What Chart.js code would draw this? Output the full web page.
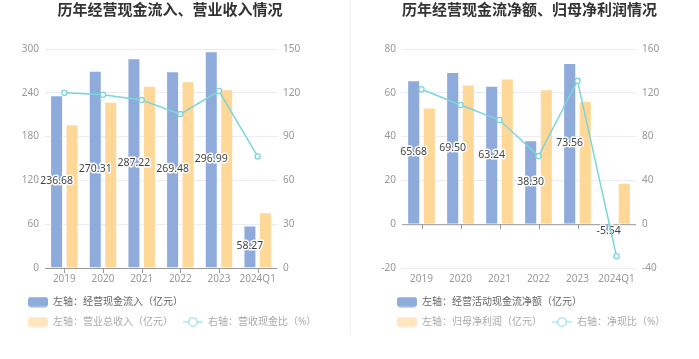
<!DOCTYPE html>
<html>
<head>
<meta charset="utf-8">
<script src="https://cdn.jsdelivr.net/npm/chart.js@4"></script>
<style>
    body { margin: 0; background: #fff; }
    #wrap { position: relative; width: 699px; height: 359px; }
    .panel { position: absolute; top: 0; height: 359px; }
    #p1 { left: 0; width: 350px; }
    #p2 { left: 351px; width: 348px; }
    #divider { position: absolute; left: 350px; top: 0; width: 1px; height: 335px; background: #eeeeee; }
</style>
</head>
<body>
<div id="wrap">
    <div class="panel" id="p1"><canvas id="c1"></canvas></div>
    <div id="divider"></div>
    <div class="panel" id="p2"><canvas id="c2"></canvas></div>
</div>
<script>
'use strict'

const years = ['2019', '2020', '2021', '2022', '2023', '2024Q1']

// left panel
const cashIn = [236.68, 270.31, 287.22, 269.48, 296.99, 58.27]
const revenue = [197.0, 227.8, 249.7, 255.7, 245.0, 76.3]
const cashRatio = [120.1, 118.7, 115.0, 105.4, 121.2, 76.4]
const leftTicks = {min: 0, max: 300, step: 60}
const leftTicksR = {min: 0, max: 150, step: 30}

// right panel
const netCash = [65.68, 69.50, 63.24, 38.30, 73.56, -5.54]
const netProfit = [53.3, 63.8, 66.5, 61.6, 56.2, 18.9]
const netRatio = [123.2, 108.9, 95.1, 62.2, 130.9, -29.3]
const rightTicks = {min: -20, max: 80, step: 20}
const rightTicksR = {min: -40, max: 160, step: 40}

const BLUE = '#8eabdb'
const ORANGE = '#ffd797'
const TEAL = '#7dd5db'
const FONT = '"Noto Sans", "Noto Sans CJK SC", sans-serif'

Chart.defaults.font.family = FONT
Chart.defaults.font.size = 10

function icon(kind) {
    const c = document.createElement('canvas')
    c.width = 20
    c.height = 11
    const ctx = c.getContext('2d')
    if (kind === 'line') {
        ctx.strokeStyle = '#a6e4e9'
        ctx.lineWidth = 1.5
        ctx.beginPath()
        ctx.moveTo(0, 5.5)
        ctx.lineTo(20, 5.5)
        ctx.stroke()
        ctx.fillStyle = '#fff'
        ctx.beginPath()
        ctx.arc(10, 5.5, 4.3, 0, Math.PI * 2)
        ctx.fill()
        ctx.stroke()
    } else {
        ctx.fillStyle = kind
        ctx.beginPath()
        ctx.roundRect(0, 0.5, 20, 10, 3)
        ctx.fill()
    }
    return c
}

const legendIcons = [icon('#8eacda'), icon('#ffe6c2'), icon('line')]
const legendColors = ['#666', '#aaa', '#aaa']

const zeroLine = {
    id: 'zeroLine',
    beforeDatasetsDraw(chart) {
        const {ctx, chartArea} = chart
        const y0 = chart.scales.y.getPixelForValue(0)
        ctx.save()
        ctx.strokeStyle = '#999'
        ctx.lineWidth = 1
        ctx.beginPath()
        ctx.moveTo(chartArea.left, y0 + 0.5)
        ctx.lineTo(chartArea.right, y0 + 0.5)
        years.forEach((_, i) => {
            const x = Math.round(chart.scales.x.getPixelForValue(i)) + 0.5
            ctx.moveTo(x, y0)
            ctx.lineTo(x, y0 + 5)
        })
        ctx.stroke()
        ctx.restore()
    }
}

const barLabels = {
    id: 'barLabels',
    afterDatasetDraw(chart, args) {
        if (args.index !== 0) return
        const {ctx} = chart
        const data = chart.data.datasets[0].data
        ctx.save()
        ctx.font = '10.5px ' + FONT
        ctx.textAlign = 'center'
        ctx.textBaseline = 'middle'
        ctx.lineJoin = 'round'
        ctx.lineWidth = 3
        ctx.strokeStyle = '#fff'
        ctx.fillStyle = '#444'
        args.meta.data.forEach((bar, i) => {
            const txt = data[i].toFixed(2)
            const y = (bar.y + bar.base) / 2
            ctx.strokeText(txt, bar.x, y)
            ctx.fillText(txt, bar.x, y)
        })
        ctx.restore()
    }
}

// nudge title and legend boxes sideways after layout
const blockShift = {
    id: 'blockShift',
    afterLayout(chart, args, opts) {
        const t = chart.titleBlock
        if (t && opts.titleX != null) {
            const half = (t.right - t.left) / 2
            t.left = opts.titleX - half
            t.right = opts.titleX + half
        }
        const l = chart.legend
        if (l && opts.legendShift) {
            l.left += opts.legendShift
            l.right += opts.legendShift
        }
    }
}

function makeChart(id, cfg) {
    return new Chart(document.getElementById(id), {
        data: {
            labels: years,
            datasets: [
                {
                    type: 'bar', label: cfg.names[0], data: cfg.bars1,
                    backgroundColor: BLUE, borderColor: 'rgba(255,255,255,0.5)', borderWidth: 1,
                    categoryPercentage: 0.8, barPercentage: 0.84, yAxisID: 'y', order: 1
                },
                {
                    type: 'bar', label: cfg.names[1], data: cfg.bars2,
                    backgroundColor: ORANGE, borderColor: 'rgba(255,255,255,0.5)', borderWidth: 1,
                    categoryPercentage: 0.8, barPercentage: 0.84, yAxisID: 'y', order: 1
                },
                {
                    type: 'line', label: cfg.names[2], data: cfg.line,
                    borderColor: TEAL, borderWidth: 1.5, tension: 0,
                    pointRadius: 2.6, pointBackgroundColor: '#fff', pointBorderColor: TEAL, pointBorderWidth: 1.3,
                    yAxisID: 'y1', order: 0
                }
            ]
        },
        options: {
            responsive: true,
            maintainAspectRatio: false,
            animation: false,
            events: [],
            layout: {padding: {left: cfg.padLeft, right: cfg.padRight, top: 0, bottom: 22}},
            scales: {
                x: {
                    grid: {display: false, drawTicks: false},
                    border: {display: false},
                    ticks: {color: '#999', padding: 5, font: {size: 10}, maxRotation: 0, autoSkip: false},
                    afterFit: s => { s.height = 19 }
                },
                y: {
                    position: 'left',
                    min: cfg.ticks.min, max: cfg.ticks.max,
                    ticks: {stepSize: cfg.ticks.step, color: '#999', padding: 6, font: {size: 10}},
                    grid: {color: '#e8ecf4', drawTicks: false},
                    border: {display: false},
                    afterFit: s => { s.width = cfg.yWidth }
                },
                y1: {
                    position: 'right',
                    min: cfg.ticksR.min, max: cfg.ticksR.max,
                    ticks: {stepSize: cfg.ticksR.step, color: '#999', padding: 6, font: {size: 10}},
                    grid: {drawOnChartArea: false, drawTicks: false},
                    border: {display: false},
                    afterFit: s => { s.width = cfg.y1Width }
                }
            },
            plugins: {
                tooltip: {enabled: false},
                title: {
                    display: true, text: cfg.title, color: '#333',
                    font: {size: 15, weight: 'bold'},
                    padding: {top: 2, bottom: 29}
                },
                blockShift: {titleX: cfg.titleX, legendShift: cfg.legendShift},
                legend: {
                    position: 'bottom',
                    align: 'start',
                    labels: {
                        usePointStyle: true,
                        pointStyleWidth: 20,
                        boxHeight: 10,
                        padding: 10,
                        font: {size: 10},
                        generateLabels: chart => chart.data.datasets.map((ds, i) => ({
                            text: ds.label,
                            fillStyle: 'transparent',
                            strokeStyle: 'transparent',
                            lineWidth: 0,
                            pointStyle: legendIcons[i],
                            fontColor: legendColors[i],
                            hidden: false,
                            datasetIndex: i
                        }))
                    }
                }
            }
        },
        plugins: [zeroLine, barLabels, blockShift]
    })
}

makeChart('c1', {
    title: '历年经营现金流入、营业收入情况',
    names: ['左轴：经营现金流入（亿元）', '左轴：营业总收入（亿元）', '右轴：营收现金比（%）'],
    bars1: cashIn, bars2: revenue, line: cashRatio,
    ticks: leftTicks, ticksR: leftTicksR,
    padLeft: 18, padRight: 14, yWidth: 27, y1Width: 59, titleX: 170, legendShift: 0
})

makeChart('c2', {
    title: '历年经营现金流净额、归母净利润情况',
    names: ['左轴：经营活动现金流净额（亿元）', '左轴：归母净利润（亿元）', '右轴：净现比（%）'],
    bars1: netCash, bars2: netProfit, line: netRatio,
    ticks: rightTicks, ticksR: rightTicksR,
    padLeft: 20, padRight: 10, yWidth: 31, y1Width: 53, titleX: 178.5, legendShift: 16
})
</script>
</body>
</html>
